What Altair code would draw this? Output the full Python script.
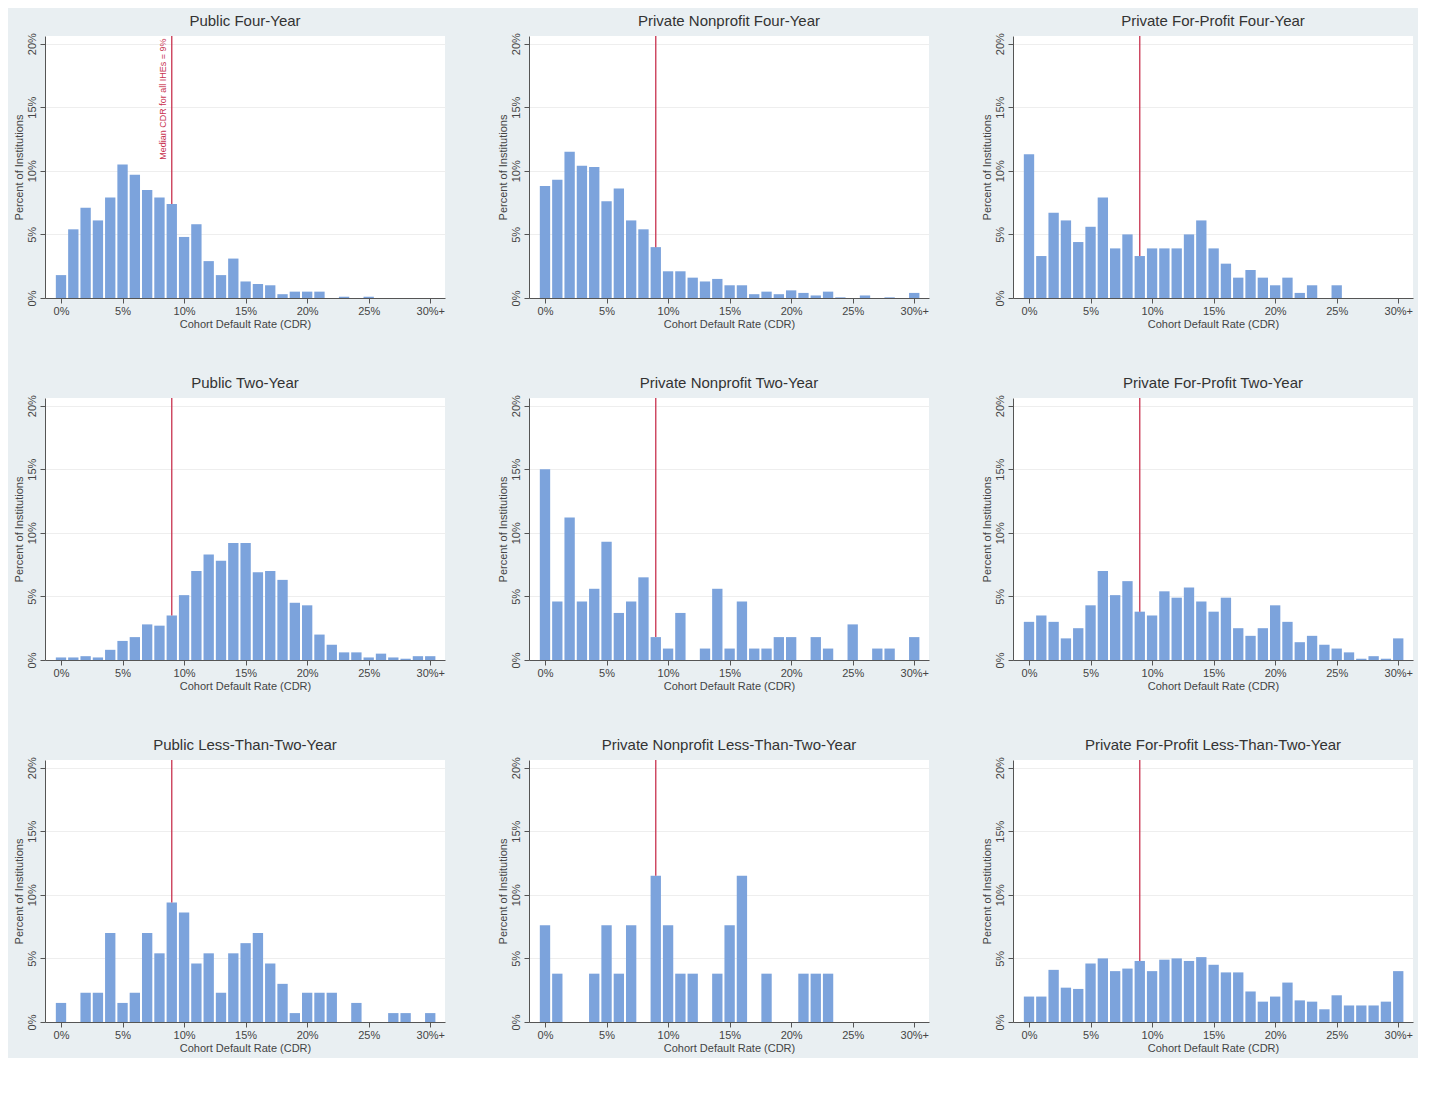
import altair as alt
import pandas as pd

bins = list(range(31))
titles = ["Public Four-Year", "Private Nonprofit Four-Year", "Private For-Profit Four-Year",
          "Public Two-Year", "Private Nonprofit Two-Year", "Private For-Profit Two-Year",
          "Public Less-Than-Two-Year", "Private Nonprofit Less-Than-Two-Year", "Private For-Profit Less-Than-Two-Year"]

pub4 = [1.8,5.4,7.1,6.1,7.9,10.5,9.7,8.5,7.9,7.4,4.8,5.8,2.9,1.8,3.1,1.3,1.1,1.0,0.3,0.5,0.5,0.5,0,0.1,0,0.1,0,0,0,0,0]
pnp4 = [8.8,9.3,11.5,10.4,10.3,7.6,8.6,6.1,5.4,4.0,2.1,2.1,1.6,1.3,1.5,1.0,1.0,0.3,0.5,0.3,0.6,0.4,0.2,0.5,0.05,0,0.2,0,0.05,0,0.4]
pfp4 = [11.3,3.3,6.7,6.1,4.4,5.6,7.9,3.9,5.0,3.3,3.9,3.9,3.9,5.0,6.1,3.9,2.7,1.6,2.2,1.6,1.0,1.6,0.4,1.0,0,1.0,0,0,0,0,0]
pub2 = [0.2,0.2,0.3,0.2,0.8,1.5,1.8,2.8,2.7,3.5,5.1,7.0,8.3,7.8,9.2,9.2,6.9,7.0,6.3,4.5,4.3,2.0,1.2,0.6,0.6,0.2,0.5,0.2,0.1,0.3,0.3]
pnp2 = [15.0,4.6,11.2,4.6,5.6,9.3,3.7,4.6,6.5,1.8,0.9,3.7,0,0.9,5.6,0.9,4.6,0.9,0.9,1.8,1.8,0,1.8,0.9,0,2.8,0,0.9,0.9,0,1.8]
pfp2 = [3.0,3.5,3.0,1.7,2.5,4.3,7.0,5.1,6.2,3.8,3.5,5.4,4.9,5.7,4.6,3.8,4.9,2.5,1.9,2.5,4.3,3.0,1.4,1.9,1.2,0.9,0.6,0.1,0.3,0.1,1.7]
publ2 = [1.5,0,2.3,2.3,7.0,1.5,2.3,7.0,5.4,9.4,8.6,4.6,5.4,2.3,5.4,6.2,7.0,4.6,3.0,0.7,2.3,2.3,2.3,0,1.5,0,0,0.7,0.7,0,0.7]
pnpl2 = [7.6,3.8,0,0,3.8,7.6,3.8,7.6,0,11.5,7.6,3.8,3.8,0,3.8,7.6,11.5,0,3.8,0,0,3.8,3.8,3.8,0,0,0,0,0,0,0]
pfpl2 = [2.0,2.0,4.1,2.7,2.6,4.6,5.0,4.0,4.2,4.8,4.0,4.9,5.0,4.8,5.1,4.5,3.9,3.9,2.4,1.6,2.0,3.1,1.7,1.6,1.0,2.1,1.3,1.3,1.3,1.6,4.0]
series = [pub4, pnp4, pfp4, pub2, pnp2, pfp2, publ2, pnpl2, pfpl2]
median = 9
label_text = "Median CDR for all IHEs = 9%"

W, H = 400, 262

def panel(i):
    df = pd.DataFrame({"bin": bins, "pct": series[i]})
    xs = alt.Scale(domain=[-1.3, 31.2], nice=False, zero=False)
    ys = alt.Scale(domain=[0, 20.6], nice=False)
    bars = alt.Chart(df).transform_calculate(
        lo="datum.bin - 0.42", hi="datum.bin + 0.42"
    ).mark_bar(color="#7ca3dc").encode(
        x=alt.X("lo:Q", scale=xs, title="Cohort Default Rate (CDR)",
                axis=alt.Axis(values=[0, 5, 10, 15, 20, 25, 30],
                              labelExpr="datum.value == 30 ? '30%+' : datum.value + '%'",
                              grid=False)),
        x2="hi:Q",
        y=alt.Y("pct:Q", scale=ys, title="Percent of Institutions",
                axis=alt.Axis(values=[0, 5, 10, 15, 20], labelExpr="datum.value + '%'",
                              labelAngle=270, labelAlign="center", labelBaseline="bottom",
                              labelPadding=3, gridColor="#eeeeee")),
        y2=alt.datum(0),
    )
    rdf = pd.DataFrame({"x": [median], "y": [series[i][median]], "y2": [20.6]})
    rule = alt.Chart(rdf).mark_rule(color="#c8324f", strokeWidth=1.3).encode(
        x=alt.X("x:Q", scale=xs), y=alt.Y("y:Q", scale=ys), y2="y2:Q")
    layers = [bars, rule]
    if i == 0:
        tdf = pd.DataFrame({"x": [median - 0.3], "y": [20.4], "t": [label_text]})
        txt = alt.Chart(tdf).mark_text(angle=270, align="right", baseline="bottom",
                                       color="#c8324f", fontSize=9).encode(
            x=alt.X("x:Q", scale=xs), y=alt.Y("y:Q", scale=ys), text="t:N")
        layers.append(txt)
    return alt.layer(*layers).properties(width=W, height=H,
                                         title=alt.TitleParams(titles[i], fontSize=15, fontWeight="normal",
                                                               color="#333333", offset=4))

rows = [alt.hconcat(*[panel(r * 3 + c) for c in range(3)], spacing=52) for r in range(3)]
chart = alt.vconcat(*rows, spacing=46).properties(background="#e9eff2").configure_view(
    fill="white", stroke=None
).configure_axis(
    labelFont="Liberation Sans", titleFont="Liberation Sans", labelFontSize=11,
    titleFontSize=11, labelColor="#444444", titleColor="#444444", titleFontWeight="normal",
    domainColor="#555555", tickColor="#555555", titlePadding=2
).configure_title(font="Liberation Sans")

chart.save("out.html", embed_options={"renderer": "svg", "actions": False})
